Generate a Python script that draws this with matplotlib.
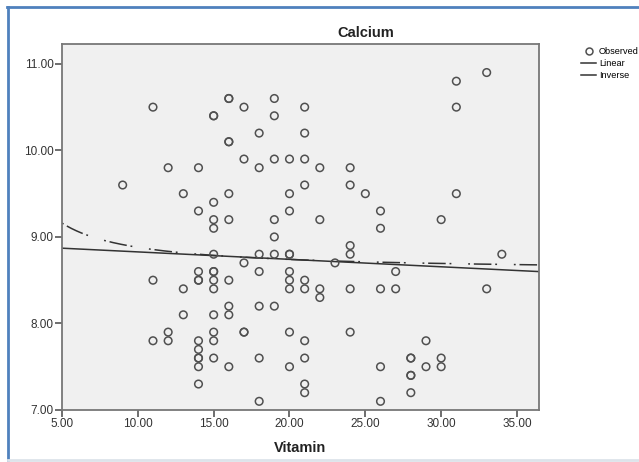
import numpy as np
import matplotlib
matplotlib.use("Agg")
import matplotlib.pyplot as plt
from matplotlib.lines import Line2D

plt.rcParams['font.family'] = ['Liberation Sans', 'DejaVu Sans']

# observed points (duplicates = overlapping circles)
vitamin = [9,
           11, 11, 11,
           12, 12, 12,
           13, 13, 13,
           14, 14, 14, 14, 14, 14, 14, 14, 14, 14, 14,
           15, 15, 15, 15, 15, 15, 15, 15, 15, 15, 15, 15, 15, 15,
           16, 16, 16, 16, 16, 16, 16, 16, 16, 16,
           17, 17, 17, 17, 17,
           18, 18, 18, 18, 18, 18, 18,
           19, 19, 19, 19, 19, 19, 19,
           20, 20, 20, 20, 20, 20, 20, 20, 20, 20,
           21, 21, 21, 21, 21, 21, 21, 21, 21, 21,
           22, 22, 22, 22,
           23,
           24, 24, 24, 24, 24, 24,
           25,
           26, 26, 26, 26, 26,
           27, 27,
           28, 28, 28, 28, 28,
           29, 29,
           30, 30, 30,
           31, 31, 31,
           33, 33,
           34]
calcium = [9.6,
           10.5, 8.5, 7.8,
           9.8, 7.9, 7.8,
           9.5, 8.4, 8.1,
           9.8, 9.3, 8.6, 8.5, 8.5, 7.8, 7.7, 7.6, 7.6, 7.5, 7.3,
           10.4, 10.4, 9.4, 9.2, 9.1, 8.8, 8.6, 8.6, 8.5, 8.4, 8.1, 7.9, 7.8, 7.6,
           10.6, 10.6, 10.1, 10.1, 9.5, 9.2, 8.5, 8.2, 8.1, 7.5,
           10.5, 9.9, 8.7, 7.9, 7.9,
           10.2, 9.8, 8.8, 8.6, 8.2, 7.6, 7.1,
           10.6, 10.4, 9.9, 9.2, 9.0, 8.8, 8.2,
           9.9, 9.5, 9.3, 8.8, 8.8, 8.6, 8.5, 8.4, 7.9, 7.5,
           10.5, 10.2, 9.9, 9.6, 8.5, 8.4, 7.8, 7.6, 7.3, 7.2,
           9.8, 9.2, 8.4, 8.3,
           8.7,
           9.8, 9.6, 8.9, 8.8, 8.4, 7.9,
           9.5,
           9.3, 9.1, 8.4, 7.5, 7.1,
           8.6, 8.4,
           7.6, 7.6, 7.4, 7.4, 7.2,
           7.8, 7.5,
           9.2, 7.6, 7.5,
           10.8, 10.5, 9.5,
           10.9, 8.4,
           8.8]

# fit coefficients as they appear on the chart
linear_coef = [-0.0086, 8.913]   # y = b1*x + b0
inverse_coef = [2.80, 8.60]      # y = b1/x + b0

x_ticks = [5, 10, 15, 20, 25, 30, 35]
y_ticks = [7, 8, 9, 10, 11]

inv_dash = (1.2, 2.5, 11.5, 2.5, 1.2, 11)

fig = plt.figure(figsize=(6.39, 4.62), dpi=100)
ax = fig.add_axes([0.097, 0.1126, 0.7465, 0.7922])
ax.set_facecolor('#f0f0f0')

xs = np.linspace(5, 36.5, 300)
ax.plot(xs, np.polyval(linear_coef, xs), color='#333333', lw=1.1, zorder=2)
ax.plot(xs, np.polyval(inverse_coef, 1.0 / xs), color='#333333', lw=1.1,
        dashes=inv_dash, zorder=2)
ax.scatter(vitamin, calcium, s=30, facecolors='none', edgecolors='#505050',
           linewidths=1.1, zorder=3)

ax.set_xlim(5, 36.45)
ax.set_ylim(7, 11.23)
ax.set_xticks(x_ticks)
ax.set_xticklabels(['%.2f' % t for t in x_ticks])
ax.set_yticks(y_ticks)
ax.set_yticklabels(['%.2f' % t for t in y_ticks])
ax.tick_params(direction='out', length=5, width=1.2, color='#555555',
               labelsize=8.5, labelcolor='#333333', pad=1)
for s in ax.spines.values():
    s.set_color('#777777')
    s.set_linewidth(1.3)

fig.text(0.573, 0.929, 'Calcium', ha='center', va='center',
         fontsize=10.5, fontweight='bold', color='#222222')
ax.set_xlabel('Vitamin', fontsize=10.5, fontweight='bold', color='#222222')
ax.xaxis.set_label_coords(0.5, -0.085)

handles = [Line2D([], [], ls='none', marker='o', mfc='none', mec='#505050',
                  ms=5, mew=1.1),
           Line2D([], [], color='#333333', lw=1.1),
           Line2D([], [], color='#333333', lw=1.1)]
fig.legend(handles, ['Observed', 'Linear', 'Inverse'], loc='upper left',
           bbox_to_anchor=(0.91, 0.898), frameon=False, fontsize=6.6,
           handlelength=1.6, handletextpad=0.3, labelspacing=0.33,
           borderpad=0, borderaxespad=0)

# page frame
fig.add_artist(Line2D([0.012, 0.012], [0.005, 0.985], color='#4f81bd',
                      lw=2, transform=fig.transFigure))
fig.add_artist(Line2D([0.011, 1.0], [0.985, 0.985], color='#4f81bd',
                      lw=2, transform=fig.transFigure))
fig.add_artist(Line2D([0.012, 1.0], [0.005, 0.005], color='#dde3ea',
                      lw=2, transform=fig.transFigure))

fig.savefig('out.png', dpi=100)
